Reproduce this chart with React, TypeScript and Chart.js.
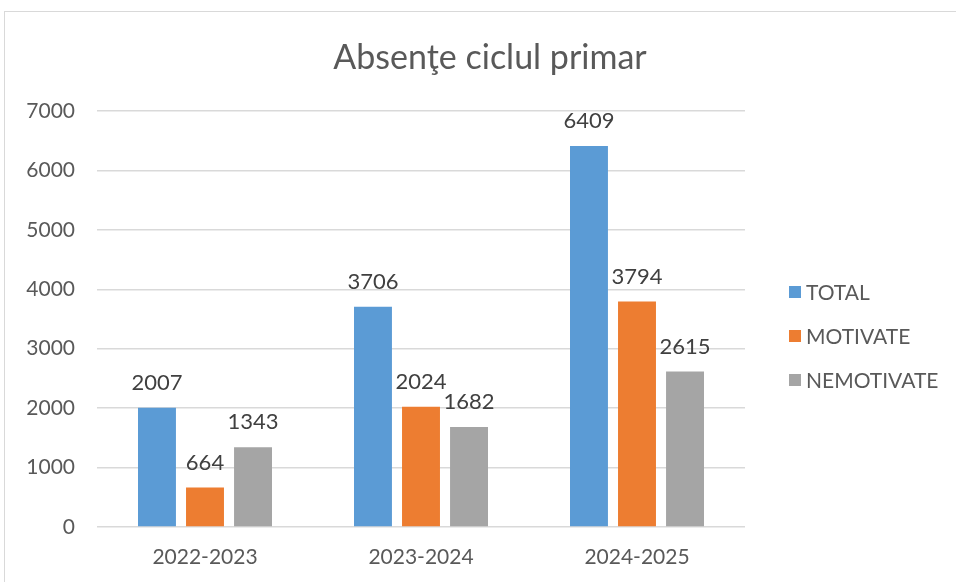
import React, { useEffect, useRef } from "react";
import { Chart, registerables } from "chart.js";

Chart.register(...registerables);

const categories = ["2022-2023", "2023-2024", "2024-2025"];
const seriesNames = ["TOTAL", "MOTIVATE", "NEMOTIVATE"];
const totalValues = [2007, 3706, 6409];
const motivateValues = [664, 2024, 3794];
const nemotivateValues = [1343, 1682, 2615];
const seriesColors = ["#5B9BD5", "#ED7D31", "#A5A5A5"];
const yTicks = [0, 1000, 2000, 3000, 4000, 5000, 6000, 7000];
const chartTitle = "Absenţe ciclul primar";

const FONT = "Lato, 'Open Sans', sans-serif";
const TEXT = "#595959";

const valueLabels = {
  id: "valueLabels",
  afterDatasetsDraw(chart: any) {
    const ctx = chart.ctx;
    ctx.save();
    ctx.font = `22px ${FONT}`;
    ctx.fillStyle = "#404040";
    ctx.textAlign = "center";
    ctx.textBaseline = "middle";
    chart.data.datasets.forEach((ds: any, i: number) => {
      const meta = chart.getDatasetMeta(i);
      meta.data.forEach((el: any, j: number) => {
        ctx.fillText(String(ds.data[j]), el.x, el.y - 25);
      });
    });
    ctx.restore();
  },
};

const sideLegendAndTitle = {
  id: "sideLegendAndTitle",
  afterDraw(chart: any) {
    const ctx = chart.ctx;
    ctx.save();
    ctx.fillStyle = TEXT;
    ctx.font = `34px ${FONT}`;
    ctx.textAlign = "center";
    ctx.textBaseline = "middle";
    ctx.fillText(chartTitle, 490, 58);
    ctx.font = `21px ${FONT}`;
    ctx.textAlign = "left";
    chart.data.datasets.forEach((ds: any, i: number) => {
      const y = 292 + i * 44;
      ctx.fillStyle = ds.backgroundColor;
      ctx.fillRect(789, y - 6, 12, 12);
      ctx.fillStyle = TEXT;
      ctx.fillText(ds.label, 806, y + 1);
    });
    ctx.restore();
  },
};

export default function App() {
  const ref = useRef<HTMLCanvasElement | null>(null);
  useEffect(() => {
    if (!ref.current) return;
    const chart = new Chart(ref.current, {
      type: "bar",
      data: {
        labels: categories,
        datasets: [totalValues, motivateValues, nemotivateValues].map((d, i) => ({
          label: seriesNames[i],
          data: d,
          backgroundColor: seriesColors[i],
          borderWidth: 0,
          categoryPercentage: 0.667,
          barPercentage: 0.79,
        })),
      },
      plugins: [valueLabels, sideLegendAndTitle],
      options: {
        animation: false,
        responsive: false,
        maintainAspectRatio: false,
        layout: { padding: { left: 0, right: 211, top: 111, bottom: 0 } },
        plugins: {
          legend: { display: false },
          tooltip: { enabled: false },
          title: { display: false },
        },
        scales: {
          x: {
            afterFit: (scale: any) => {
              scale.height = 55;
            },
            grid: { display: false, drawTicks: false },
            border: { display: false },
            ticks: { color: TEXT, font: { family: FONT, size: 21 }, padding: 18 },
          },
          y: {
            min: 0,
            max: 7000,
            afterBuildTicks: (scale: any) => {
              scale.ticks = yTicks.map((v) => ({ value: v }));
            },
            afterFit: (scale: any) => {
              scale.width = 97;
            },
            grid: { color: "#D9D9D9", lineWidth: 1.5, drawTicks: false },
            border: { display: false },
            ticks: {
              color: TEXT,
              font: { family: FONT, size: 21 },
              padding: 22,
              callback: (v: any) => String(v),
            },
          },
        },
      },
    });
    return () => chart.destroy();
  }, []);
  return (
    <div style={{ position: "fixed", left: 0, top: 0, width: 956, height: 582, background: "#fff", overflow: "hidden" }}>
      <div
        style={{
          position: "absolute",
          left: 4,
          top: 11,
          width: 1000,
          height: 700,
          border: "1.5px solid #D9D9D9",
        }}
      />
      <canvas ref={ref} width={956} height={582} style={{ position: "absolute", left: 0, top: 0 }} />
    </div>
  );
}
